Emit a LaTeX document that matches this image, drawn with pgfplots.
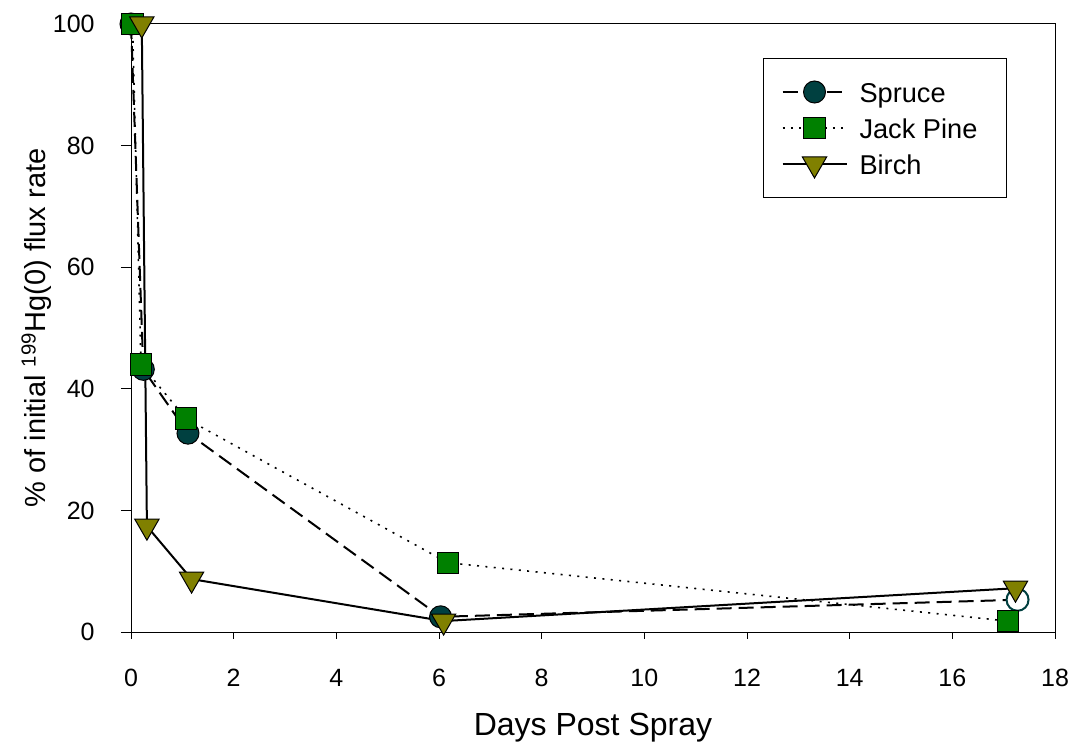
\documentclass[border=0pt]{standalone}
\usepackage{fontspec}
\setmainfont{Liberation Sans}
\usepackage{pgfplots}
\pgfplotsset{compat=1.18}
\definecolor{spruce}{RGB}{0,64,64}
\definecolor{jack}{RGB}{0,128,0}
\definecolor{birch}{RGB}{128,128,0}
\begin{document}
\begin{tikzpicture}
\begin{axis}[
  scale only axis, width=462pt, height=304pt,
  xmin=0, xmax=18, ymin=0, ymax=100,
  xtick={0,2,...,18}, ytick={0,20,...,100},
  tick pos=left, tick align=outside,
  major tick length=5pt,
  xtick style={/pgfplots/major tick length=3.3pt},
  tick style={black, line width=0.5pt},
  axis line style={line width=0.5pt},
  /pgf/number format/assume math mode=true,
  ticklabel style={font=\fontsize{12.5}{15}\selectfont},
  yticklabel style={inner sep=0pt, anchor=east, xshift=-13pt},
  xticklabel style={inner sep=0pt, anchor=north, yshift=-13.5pt},
  clip=false,
  xlabel={Days Post Spray},
  ylabel={\% of initial \textsuperscript{199}Hg(0) flux rate},
  xlabel style={font=\fontsize{16}{19}\selectfont, at={(axis description cs:0.5,0)}, anchor=base, yshift=-51.5pt},
  ylabel style={font=\fontsize{14.5}{17}\selectfont, at={(axis description cs:0,0.5)}, anchor=base, yshift=42.5pt},
  legend style={draw=black, line width=0.5pt, at={(1,1)}, anchor=north east, xshift=-24pt, yshift=-17pt,
    font=\fontsize{13.6}{16}\selectfont, inner xsep=4pt, inner ysep=7.75pt, row sep=0pt,
    nodes={inner sep=2.5pt, text height=12pt, text depth=1pt}},
  legend cell align=left,
  legend image code/.code={\path (0pt,0pt) (40.5pt,0pt);
    \draw[mark repeat=2,mark phase=2] plot coordinates {(5pt,0pt)(21pt,0pt)(37pt,0pt)};},
]
\addplot[black, line width=1pt, dash pattern=on 7.5pt off 3.5pt,
  mark=*, mark size=5.5pt,
  mark options={solid, fill=spruce, draw=black, line width=0.5pt}]
  coordinates {(0.0,100) (0.24,43.2) (1.11,32.7) (6.03,2.5) (17.27,5.3)};
\addlegendentry{\makebox[67pt][l]{Spruce}}
\addplot[only marks, mark=*, mark size=5.5pt, mark options={solid, fill=white, draw=spruce, line width=1pt}, forget plot]
  coordinates {(17.27,5.3)};
\addplot[black, line width=0.8pt, dash pattern=on 1pt off 3.2pt,
  mark=square*, mark size=5.3pt,
  mark options={solid, fill=jack, draw=black, line width=0.5pt}]
  coordinates {(0.03,100) (0.195,44.0) (1.07,35.1) (6.17,11.4) (17.08,1.8)};
\addlegendentry{Jack Pine}
\addplot[black, line width=1pt,
  mark=triangle*, mark size=7pt,
  mark options={solid, rotate=180, fill=birch, draw=black, line width=0.5pt}]
  coordinates {(0.21,100) (0.31,17.4) (1.18,8.7) (6.09,1.8) (17.23,7.2)};
\addlegendentry{Birch}
\end{axis}
\pgfresetboundingbox
\useasboundingbox ([shift={(-65.5pt,-55.5pt)}]current axis.south west) rectangle ([shift={(9.5pt,12pt)}]current axis.north east);
\end{tikzpicture}
\end{document}
